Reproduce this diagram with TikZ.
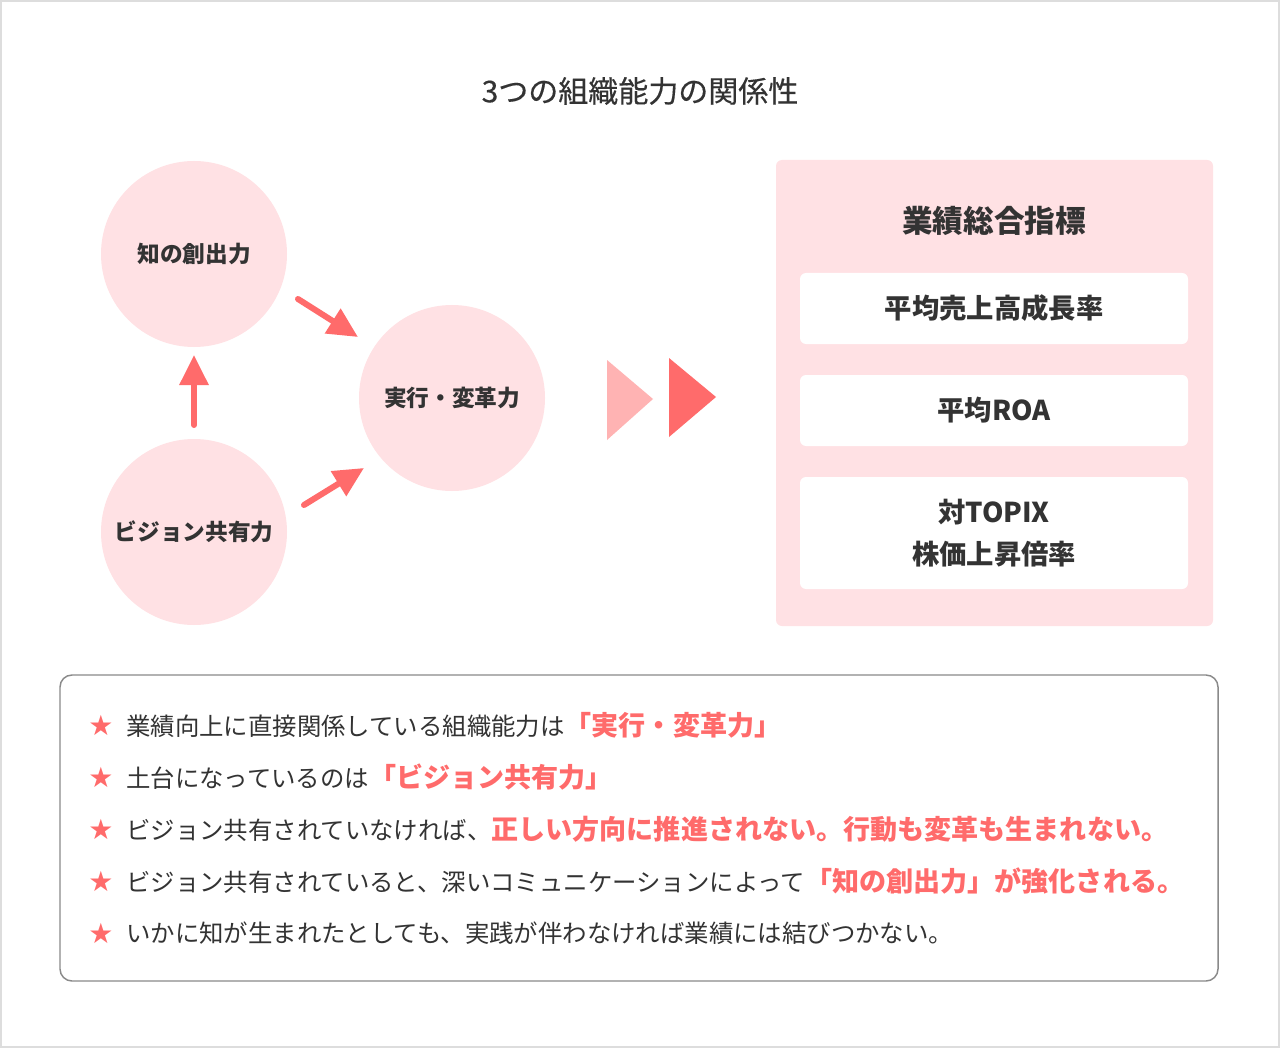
\documentclass[tikz,border=0pt]{standalone}
\usepackage{fontspec}
\setmainfont{Noto Sans CJK JP}
\newfontfamily\symf{DejaVu Sans}
\newfontfamily\medf{Noto Sans CJK JP}[FakeBold=0.35]
\usetikzlibrary{arrows.meta,calc}
\definecolor{txt}{HTML}{333333}
\definecolor{accent}{HTML}{FF6B6B}
\definecolor{pinkbg}{HTML}{FFE1E4}
\definecolor{lightred}{HTML}{FFB3B3}
\definecolor{framec}{HTML}{DDDDDD}
\definecolor{boxline}{HTML}{8A8A8A}
\newcommand{\hl}[1]{\textcolor{accent}{\bfseries\fontsize{20.3}{22}\selectfont #1}}
\begin{document}
\begin{tikzpicture}[x=0.75pt,y=-0.75pt,
  circ/.style={circle, fill=pinkbg, minimum size=139.5pt, inner sep=0pt, text=txt,
    font=\bfseries\fontsize{17}{20}\selectfont},
  arr/.style={draw=accent, line width=4.5pt, line cap=round,
    -{Triangle[length=22.5pt,width=21pt]}},
  whitebox/.style={fill=white, rounded corners=4.5pt, minimum width=291pt,
    text=txt, font=\bfseries\fontsize{20.5}{31}\selectfont, align=center, inner sep=0pt},
  starmark/.style={text=accent, font=\symf\fontsize{21}{22}\selectfont, inner sep=0pt},
  linetext/.style={anchor=west, text=txt, font=\fontsize{18.3}{22}\selectfont, inner sep=0pt}
]
\useasboundingbox (0,0) rectangle (1280,1048);
\fill[white] (0,0) rectangle (1280,1048);
\draw[framec, line width=1.5pt] (1,1) rectangle (1279,1047);

% title
\node[text=txt, font=\medf\fontsize{22.5}{26}\selectfont] (title) at (640,91) {3つの組織能力の関係性};

% circles
\node[circ] (chi) at (194,254) {知の創出力};
\node[circ] (exe) at (452,398) {実行・変革力};
\node[circ] (vis) at (194,532) {ビジョン共有力};

\coordinate (a1s) at ($(vis)+(0,-107)$);
\coordinate (a1e) at ($(chi)+(0,101)$);
\coordinate (a2s) at ($(chi)+(104,45)$);
\coordinate (a2e) at ($(exe)+(-94,-61)$);
\coordinate (a3s) at ($(vis)+(110,-27)$);
\coordinate (a3e) at ($(exe)+(-88,70)$);
\draw[arr] (a1s) -- (a1e);
\draw[arr] (a2s) -- (a2e);
\draw[arr] (a3s) -- (a3e);

% triangles
\fill[lightred] (607,360) -- (653,399) -- (607,440) -- cycle;
\fill[accent] (669,358) -- (716,397) -- (669,437) -- cycle;

% right panel
\fill[pinkbg, rounded corners=4.5pt] (776,160) rectangle (1213,626);
\node[text=txt, font=\bfseries\fontsize{23}{27}\selectfont] (ptitle) at (994,221) {業績総合指標};
\node[whitebox, minimum height=53.25pt] (k1) at (994,308.5) {平均売上高成長率};
\node[whitebox, minimum height=53.25pt] (k2) at (994,410.5) {平均ROA};
\node[whitebox, minimum height=84pt] (k3) at (994,533) {対TOPIX\\株価上昇倍率};

% bottom box
\draw[boxline, line width=1.1pt, rounded corners=9pt] (60,675) rectangle (1218,981);
\foreach \y [count=\i] in {725,777,829,881,933} {
  \node[starmark] (s\i) at (101,\y) {★};
}
\node[linetext] (l1) at (126,725) {業績向上に直接関係している組織能力は\hl{「実行・変革力」}};
\node[linetext] (l2) at (126,777) {土台になっているのは\hl{「ビジョン共有力」}};
\node[linetext] (l3) at (126,829) {ビジョン共有されていなければ、\hl{正しい方向に推進されない。行動も変革も生まれない。}};
\node[linetext] (l4) at (126,881) {ビジョン共有されていると、深いコミュニケーションによって\hl{「知の創出力」が強化される。}};
\node[linetext] (l5) at (126,933) {いかに知が生まれたとしても、実践が伴わなければ業績には結びつかない。};
\end{tikzpicture}
\end{document}
